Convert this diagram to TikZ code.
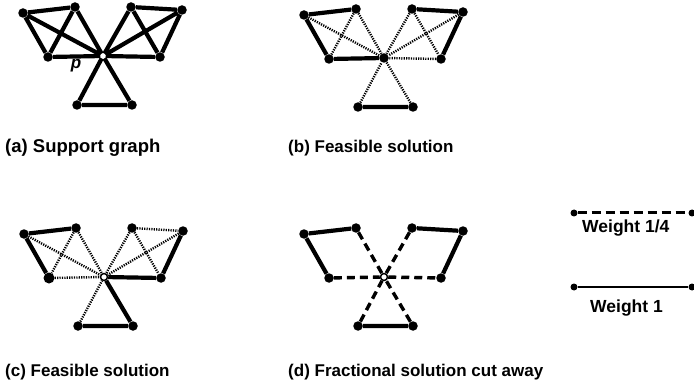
\documentclass[tikz,border=0pt]{standalone}
\usepackage{fontspec}
\setmainfont{Liberation Sans}
\usetikzlibrary{positioning}
\tikzset{
  vx/.style={circle,fill=black,inner sep=0pt,minimum size=9.5pt},
  pv/.style={circle,draw,fill=white,inner sep=0pt,minimum size=7pt,line width=1.5pt},
  wone/.style={line width=4.2pt},
  wdot/.style={line width=2.4pt,dash pattern=on 1.2pt off 1.2pt},
  wquart/.style={line width=3.4pt,dash pattern=on 8pt off 5pt},
  capt/.style={anchor=base west,inner sep=0pt,font=\fontsize{17}{20}\selectfont\bfseries},
  every picture/.style={line cap=butt,line join=round}}
\begin{document}
\begin{tikzpicture}[x=1pt,y=-1pt]
  \useasboundingbox (0,0) rectangle (694,385);
  % (a) support graph
  \node[vx] (a1) at (23,13){};\node[vx] (a2) at (75,7){};\node[vx] (a3) at (48,57){};
  \node[vx] (a5) at (131,7){};\node[vx] (a6) at (182,10){};\node[vx] (a7) at (160,57){};
  \node[vx] (a8) at (77,105){};\node[vx] (a9) at (132,105){};
  \node[pv,minimum size=4pt,draw=none] (a4) at (103,56){};
  \draw[wone] (a1)--(a2)--(a3)--(a1)--(a4) (a2)--(a4) (a3)--(a4)
              (a5)--(a6)--(a7)--(a5)--(a4) (a6)--(a4) (a7)--(a4)
              (a8)--(a9)--(a4)--(a8);
  \node[font=\fontsize{17}{20}\selectfont\bfseries\itshape] (plab) at (76,66){p};
  \node[capt,font=\fontsize{18.5}{20}\selectfont\bfseries] (capa) at (5,153){(a) Support graph};
  % (b) feasible solution
  \begin{scope}[shift={(281,2)}]
    \node[vx] (b1) at (23,13){};\node[vx] (b2) at (75,7){};\node[vx] (b3) at (48,57){};
    \node[vx] (b4) at (103,56){};
    \node[vx] (b5) at (131,7){};\node[vx] (b6) at (182,10){};\node[vx] (b7) at (160,57){};
    \node[vx] (b8) at (77,105){};\node[vx] (b9) at (132,105){};
    \draw[wdot] (b2)--(b3) (b1)--(b4) (b2)--(b4) (b5)--(b4) (b6)--(b4) (b7)--(b4)
                (b5)--(b7) (b8)--(b4) (b9)--(b4);
    \draw[wone] (b2)--(b1)--(b3)--(b4) (b5)--(b6)--(b7) (b8)--(b9);
  \end{scope}
  \node[capt] (capb) at (288,153){(b) Feasible solution};
  % (c) feasible solution
  \begin{scope}[shift={(1,221)}]
    \node[vx] (c1) at (23,13){};\node[vx] (c2) at (75,7){};\node[vx,minimum size=11pt] (c3) at (48,57){};
    \node[vx] (c5) at (131,7){};\node[vx] (c6) at (182,10){};\node[vx] (c7) at (160,57){};
    \node[vx] (c8) at (77,105){};\node[vx] (c9) at (132,105){};
    \node[pv] (c4) at (103,56){};
    \draw[wdot] (c2)--(c3) (c1)--(c4) (c2)--(c4) (c3)--(c4) (c5)--(c6) (c5)--(c7)
                (c5)--(c4) (c6)--(c4) (c8)--(c4);
    \draw[wone] (c2)--(c1)--(c3) (c4)--(c7)--(c6) (c4)--(c9)--(c8);
  \end{scope}
  \node[capt] (capc) at (5,376){(c) Feasible solution};
  % (d) fractional solution
  \begin{scope}[shift={(281,221)}]
    \node[vx] (d1) at (23,13){};\node[vx] (d2) at (75,7){};\node[vx] (d3) at (48,57){};
    \node[vx] (d5) at (131,7){};\node[vx] (d6) at (182,10){};\node[vx] (d7) at (160,57){};
    \node[vx] (d8) at (77,105){};\node[vx] (d9) at (132,105){};
    \node[pv] (d4) at (103,56){};
    \draw[wquart] (d3)--(d4)--(d7) (d2)--(d4) (d5)--(d4) (d8)--(d4) (d9)--(d4);
    \draw[wone] (d2)--(d1)--(d3) (d5)--(d6)--(d7) (d8)--(d9);
  \end{scope}
  \node[capt] (capd) at (288,376){(d) Fractional solution cut away};
  % legend
  \node[vx,minimum size=7pt] (q1) at (574,213){};\node[vx,minimum size=7pt] (q2) at (692,213){};
  \draw[wquart,line width=3pt,dash pattern=on 9pt off 5pt] (q1)--(q2);
  \node[capt,font=\fontsize{17.5}{20}\selectfont\bfseries] (lq) at (582,233){Weight 1/4};
  \node[vx,minimum size=7pt] (o1) at (574,287){};\node[vx,minimum size=7pt] (o2) at (692,287){};
  \draw[line width=2.4pt] (o1)--(o2);
  \node[capt,font=\fontsize{17.5}{20}\selectfont\bfseries] (lo) at (590,312){Weight 1};
\end{tikzpicture}
\end{document}
